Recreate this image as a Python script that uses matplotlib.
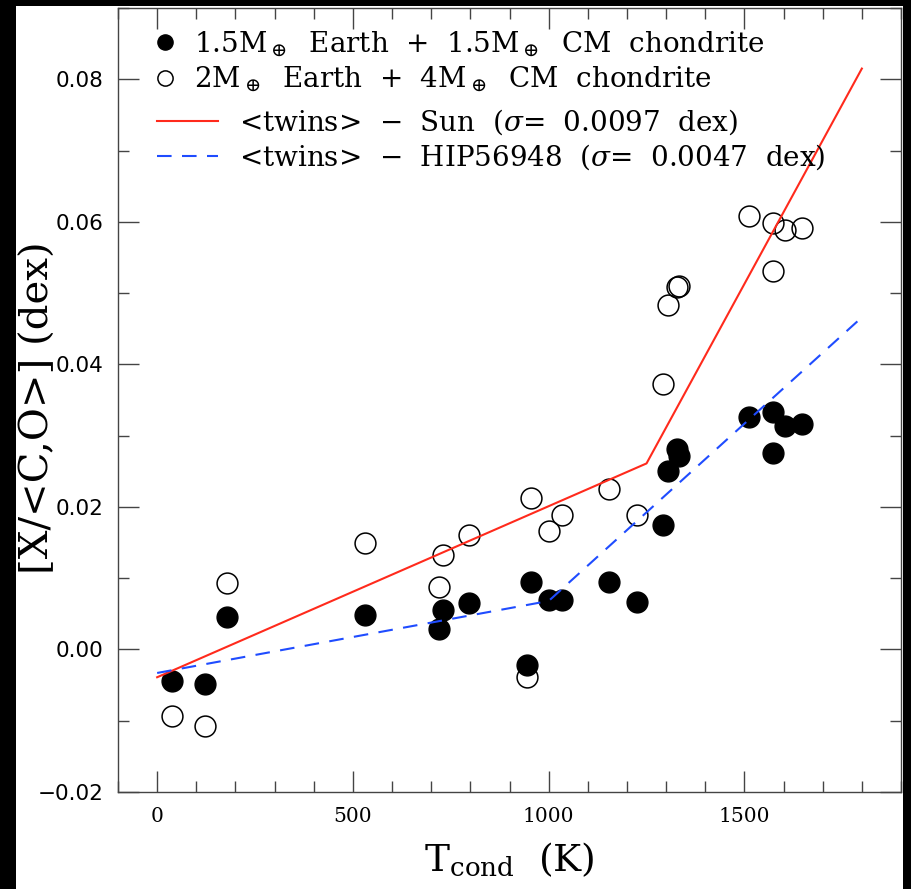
import numpy as np
import matplotlib
matplotlib.use("Agg")
import matplotlib.pyplot as plt
from matplotlib.patches import Rectangle
from matplotlib.ticker import MultipleLocator, FuncFormatter

plt.rcParams['font.family'] = 'DejaVu Serif'
plt.rcParams['mathtext.fontset'] = 'dejavuserif'

# condensation temperatures (K) and abundance differences (dex)
tcond = [38, 122, 178, 532, 721, 731, 797, 945, 955, 1001, 1034, 1154,
         1225, 1291, 1306, 1329, 1332, 1513, 1574, 1574, 1604, 1648]
mix_small = [-0.0044, -0.0049, 0.0045, 0.0049, 0.0029, 0.0055, 0.0065,
             -0.0022, 0.0094, 0.0070, 0.0070, 0.0095, 0.0066, 0.0175,
             0.0251, 0.0281, 0.0271, 0.0326, 0.0333, 0.0275, 0.0313, 0.0316]
mix_large = [-0.0093, -0.0108, 0.0093, 0.0149, 0.0087, 0.0133, 0.0161,
             -0.0038, 0.0212, 0.0166, 0.0189, 0.0225, 0.0189, 0.0372,
             0.0483, 0.0508, 0.0510, 0.0608, 0.0599, 0.0531, 0.0589, 0.0592]

# broken-line fits
sun_x = [0, 1250, 1800]
sun_y = [-0.0039, 0.0261, 0.0815]
hip_x = [0, 1000, 1800]
hip_y = [-0.0033, 0.0068, 0.0466]

W, H = 912, 889
fig = plt.figure(figsize=(W / 100, H / 100), dpi=100)
fig.patch.set_facecolor('black')
fig.add_artist(Rectangle((16 / W, 0), (903 - 16) / W, (H - 6) / H,
                         transform=fig.transFigure, facecolor='white',
                         edgecolor='none', zorder=-5))

ax = fig.add_axes([118 / W, (H - 792) / H, (901 - 118) / W, (792 - 8) / H])

p1, = ax.plot(tcond, mix_small, 'o', ms=15, mfc='black', mec='black', zorder=3)
p2, = ax.plot(tcond, mix_large, 'o', ms=15, mfc='none', mec='black', mew=1.1, zorder=3)
l1, = ax.plot(sun_x, sun_y, color='#ff2a1c', lw=1.5, zorder=4)
l2, = ax.plot(hip_x, hip_y, color='#1f4cff', lw=1.5, ls=(0, (7, 5)), zorder=4)

ax.set_xlim(-100, 1900)
ax.set_ylim(-0.02, 0.09)
ax.xaxis.set_major_locator(MultipleLocator(500))
ax.xaxis.set_minor_locator(MultipleLocator(100))
ax.yaxis.set_major_locator(MultipleLocator(0.02))
ax.yaxis.set_minor_locator(MultipleLocator(0.01))
ax.yaxis.set_major_formatter(FuncFormatter(
    lambda v, p: f'{v:.2f}'.replace('-', '\u2212') if abs(v) > 1e-9 else '0.00'))

ax.tick_params(which='both', direction='in', top=True, right=True,
               color='#444444', width=1.0)
ax.tick_params(which='major', length=15, pad=10.5)
ax.tick_params(which='minor', length=8)
for lab in ax.get_yticklabels():
    lab.set_fontfamily('DejaVu Sans')
    lab.set_fontsize(15.5)
for lab in ax.get_xticklabels():
    lab.set_fontfamily('DejaVu Serif')
    lab.set_fontsize(14.5)
for s in ax.spines.values():
    s.set_color('#444444')
    s.set_linewidth(1.0)

ax.set_xlabel(r'T$_{\rm cond}$  (K)', fontsize=27)
ax.set_ylabel(r'[X/<C,O>] (dex)', fontsize=29)
ax.xaxis.set_label_coords(0.5, -0.062)
ax.yaxis.set_label_coords(-0.078, 0.49)

leg1 = ax.legend([p1, p2],
                 [r'1.5M$_\oplus$  Earth  +  1.5M$_\oplus$  CM  chondrite',
                  r'2M$_\oplus$  Earth  +  4M$_\oplus$  CM  chondrite'],
                 loc='upper left', bbox_to_anchor=((152 - 118) / 783, 1 - (29 - 8) / 784),
                 frameon=False, fontsize=20, borderpad=0, borderaxespad=0,
                 handlelength=0.9, handletextpad=0.63, markerscale=0.73,
                 labelspacing=0.2)
ax.add_artist(leg1)
ax.legend([l1, l2],
          ['<twins>  \u2212  Sun  ($\\sigma$=  0.0097  dex)',
           '<twins>  \u2212  HIP56948  ($\\sigma$=  0.0047  dex)'],
          loc='upper left', bbox_to_anchor=((157 - 118) / 783, 1 - (107 - 8) / 784),
          frameon=False, fontsize=20, borderpad=0, borderaxespad=0,
          handlelength=2.2, handletextpad=0.76, labelspacing=0.2)

fig.savefig('out.png', dpi=100, facecolor=fig.get_facecolor())
